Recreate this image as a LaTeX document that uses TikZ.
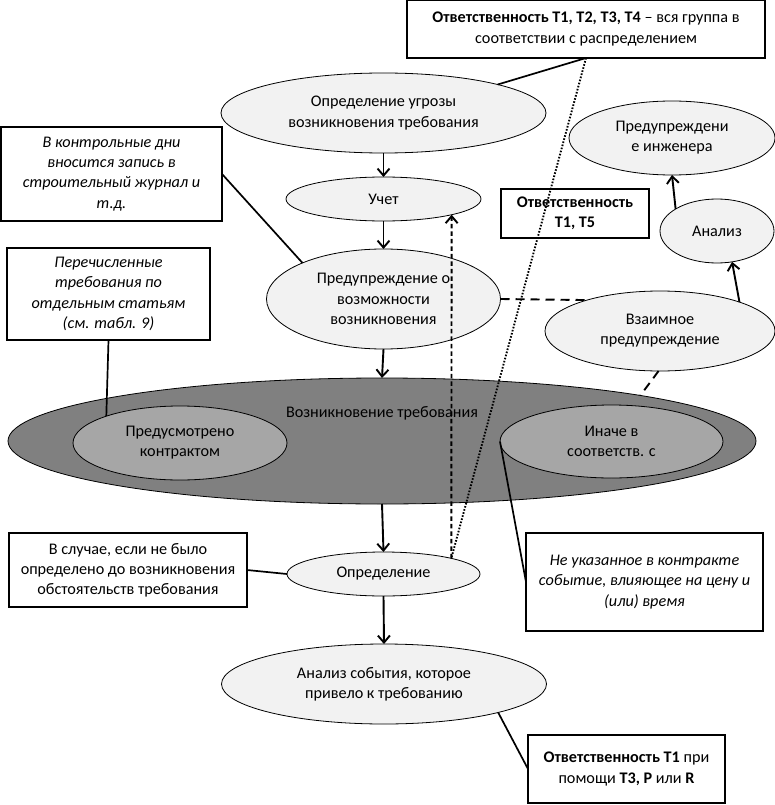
\documentclass[tikz,border=0pt]{standalone}
\usepackage{fontspec}
\setmainfont{Carlito}
\usetikzlibrary{shapes.geometric,arrows.meta,calc}
\definecolor{lightfill}{HTML}{F2F2F2}
\definecolor{bigfill}{HTML}{808080}
\definecolor{innerfill}{HTML}{A6A6A6}
\begin{document}
\begin{tikzpicture}[x=1pt,y=-1pt,
  every node/.style={font=\fontsize{16.2}{20.2}\selectfont, align=center, inner sep=0pt, outer sep=0pt},
  ell/.style={ellipse, draw, line width=0.8pt, fill=lightfill},
  bigell/.style={ellipse, draw, line width=0.8pt, fill=bigfill},
  inell/.style={ellipse, draw, line width=0.8pt, fill=innerfill},
  box/.style={draw, line width=1.2pt, fill=white},
  arr/.style={line width=1.9pt, -{Straight Barb[length=7pt,width=12pt]}},
  callout/.style={line width=1.7pt},
  dasharr/.style={line width=1.9pt, dash pattern=on 4.5pt off 3pt, -{Straight Barb[length=7pt,width=12pt]}},
  dotline/.style={line width=1.9pt, dash pattern=on 1.6pt off 1.6pt},
  longdash/.style={line width=1.9pt, dash pattern=on 9pt off 6pt}
]
\useasboundingbox (0,0) rectangle (775,805);

% ellipses
\node[ell, minimum width=325, minimum height=80] (e1) at (383.5,113) {Определение угрозы\\возникновения требования};
\node[ell, minimum width=195, minimum height=44] (e2) at (383.5,199) {Учет};
\node[ell, minimum width=234, minimum height=100] (e3) at (383.5,299) {Предупреждение о\\возможности\\возникновения};
\node[bigell, minimum width=748, minimum height=126] (e4) at (382,441) {};
\node (e4t) at (382,413) {Возникновение требования};
\node[inell, minimum width=214, minimum height=74] (e5) at (180,443) {Предусмотрено\\контрактом};
\node[inell, minimum width=223, minimum height=73] (e6) at (611.5,441.5) {Иначе в\\соответств. с};
\node[ell, minimum width=193, minimum height=44] (e7) at (383.5,574) {Определение};
\node[ell, minimum width=325, minimum height=80] (e8) at (384,684) {Анализ события, которое\\привело к требованию};
\node[ell, minimum width=206, minimum height=74] (e9) at (672,138) {Предупреждени\\е инженера};
\node[ell, minimum width=114, minimum height=64] (e10) at (717,231) {Анализ};
\node[ell, minimum width=230, minimum height=80] (e11) at (660,331) {Взаимное\\предупреждение};

% boxes
\node[box, minimum width=358, minimum height=58] (r1) at (586,29) {\textbf{Ответственность Т1, Т2, Т3, Т4} – вся группа в\\соответствии с распределением};
\node[box, minimum width=148, minimum height=49] (r2) at (575,213.5) {\textbf{Ответственность}\\\textbf{Т1, Т5}};
\node[box, minimum width=221, minimum height=94] (b1) at (111.5,174) {\itshape В контрольные дни\\\itshape вносится запись в\\\itshape строительный журнал и\\\itshape т.д.};
\node[box, minimum width=203, minimum height=92] (b2) at (108.5,294) {\itshape Перечисленные\\\itshape требования по\\\itshape отдельным статьям\\\itshape (см. табл. 9)};
\node[box, minimum width=238, minimum height=74] (b3) at (128,570) {В случае, если не было\\определено до возникновения\\обстоятельств требования};
\node[box, minimum width=237, minimum height=98] (b4) at (644.5,582) {\itshape Не указанное в контракте\\\itshape событие, влияющее на цену и\\\itshape (или) время};
\node[box, minimum width=197, minimum height=68] (b5) at (626.5,769) {\textbf{Ответственность Т1} при\\помощи \textbf{Т3, P} или \textbf{R}};

% main arrows
\draw[arr] (e1.south) -- (e2.north);
\draw[arr] (e2.south) -- (e3.north);
\draw[arr] (e3.south) -- (e4.north);
\draw[arr] (e4.south) -- (e7.north);
\draw[arr] (e7.south) -- (e8.north);
\draw[arr] (e11.20) -- (e10.-64);
\draw[arr] (e10.152) -- (e9.south);

% dashed / dotted
\draw[dasharr] (e7.13) -- (e2.-13);
\draw[dotline] (r1.south) -- (e7.13);
\draw[longdash] (e3.east) -- (e11.157);
\draw[longdash] (e11.-92) -- (e4.10);

% callouts
\draw[callout] (r1.south) -- (e1.14);
\draw[callout] (b1.east) -- (e3.156);
\draw[callout] (b2.south) -- (e5.160);
\draw[callout] (e6.west) -- (b4.west);
\draw[callout] (b3.east) -- (e7.west);
\draw[callout] (e8.-14) -- (b5.west);
\end{tikzpicture}
\end{document}
